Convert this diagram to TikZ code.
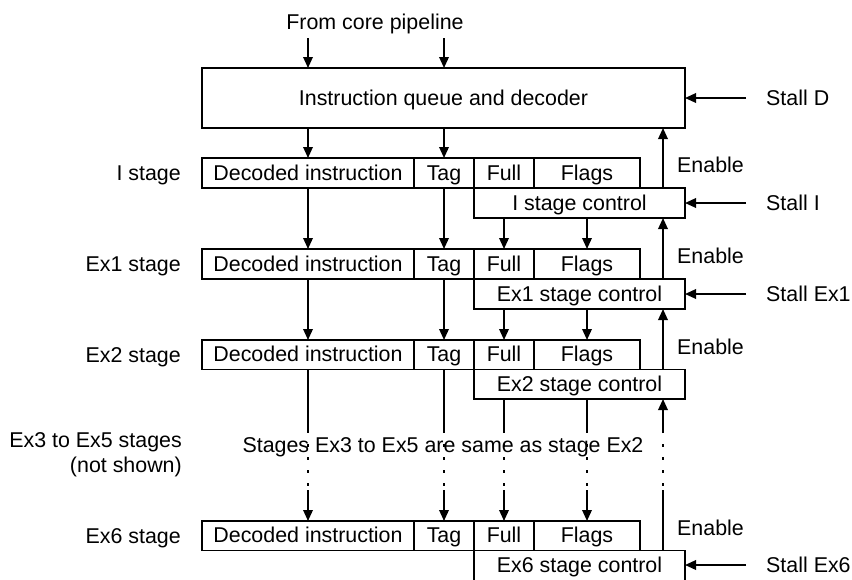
\documentclass[tikz,border=0pt]{standalone}
\usepackage{fontspec}
\setmainfont{Liberation Sans}
\usetikzlibrary{arrows.meta,calc}
\begin{document}
\begin{tikzpicture}[x=1pt,y=-1pt,
  every node/.style={font=\fontsize{21.4}{24}\selectfont,text height=15pt,text depth=1pt},
  cell/.style={draw,line width=1.8pt,minimum height=30pt,inner sep=0pt,outer sep=0pt,anchor=north west},
  conn/.style={line width=1.8pt},
  arr/.style={line width=1.8pt,-{Triangle[length=11pt,width=9.5pt]}},
  dotl/.style={line width=1.8pt,dash pattern=on 3pt off 10pt},
  lab/.style={inner sep=0pt}]
\useasboundingbox (0,0) rectangle (852,579);
% top
\node[lab] (from) at (375,22) {From core pipeline};
\node[cell,minimum width=483pt,minimum height=60pt] (iq) at (202,68) {Instruction queue and decoder};
\coordinate (in1) at (308,38);
\coordinate (in2) at (444,38);
\draw[arr] (in1) -- (in1 |- iq.north);
\draw[arr] (in2) -- (in2 |- iq.north);
\coordinate (sD) at (746,98);
\draw[arr] (sD) -- (iq.east |- sD);
\node[lab,anchor=west] (lsD) at (766,98) {Stall D};
\coordinate (ex) at (663,0);
% I stage
\node[cell,minimum width=212pt] (d1) at (202,158) {Decoded instruction};
\node[cell,minimum width=60pt] (t1) at (414,158) {Tag};
\node[cell,minimum width=60pt] (f1) at (474,158) {Full};
\node[cell,minimum width=106pt] (g1) at (534,158) {Flags};
\node[cell,minimum width=211pt] (c1) at (474,188) {I stage control};
\node[lab,anchor=east] (l1) at (181,173) {I stage};
% Ex1
\node[cell,minimum width=212pt] (d2) at (202,249) {Decoded instruction};
\node[cell,minimum width=60pt] (t2) at (414,249) {Tag};
\node[cell,minimum width=60pt] (f2) at (474,249) {Full};
\node[cell,minimum width=106pt] (g2) at (534,249) {Flags};
\node[cell,minimum width=211pt] (c2) at (474,279) {Ex1 stage control};
\node[lab,anchor=east] (l2) at (181,264) {Ex1 stage};
% Ex2
\node[cell,minimum width=212pt,minimum height=29.5pt] (d3) at (202,340) {Decoded instruction};
\node[cell,minimum width=60pt,minimum height=29.5pt] (t3) at (414,340) {Tag};
\node[cell,minimum width=60pt,minimum height=29.5pt] (f3) at (474,340) {Full};
\node[cell,minimum width=106pt,minimum height=29.5pt] (g3) at (534,340) {Flags};
\node[cell,minimum width=211pt,minimum height=29.5pt] (c3) at (474,369.5) {Ex2 stage control};
\node[lab,anchor=east] (l3) at (181,355) {Ex2 stage};
% Ex6
\node[cell,minimum width=212pt,minimum height=29.5pt] (d6) at (202,521) {Decoded instruction};
\node[cell,minimum width=60pt,minimum height=29.5pt] (t6) at (414,521) {Tag};
\node[cell,minimum width=60pt,minimum height=29.5pt] (f6) at (474,521) {Full};
\node[cell,minimum width=106pt,minimum height=29.5pt] (g6) at (534,521) {Flags};
\node[cell,minimum width=211pt] (c6) at (474,550.5) {Ex6 stage control};
\node[lab,anchor=east] (l6) at (181,536) {Ex6 stage};
% middle labels
\node[lab,anchor=east] (l45a) at (182,440) {Ex3 to Ex5 stages};
\node[lab,anchor=east] (l45b) at (182,465) {(not shown)};
\node[lab] (same) at (443,445) {Stages Ex3 to Ex5 are same as stage Ex2};
% vertical data arrows
\draw[arr] (iq.south -| d1.north) -- (d1.north);
\draw[arr] (iq.south -| t1.north) -- (t1.north);
\draw[arr] (d1.south) -- (d2.north);
\draw[arr] (t1.south) -- (t2.north);
\draw[arr] (c1.south -| f2.north) -- (f2.north);
\draw[arr] (c1.south -| g2.north) -- (g2.north);
\draw[arr] (d2.south) -- (d3.north);
\draw[arr] (t2.south) -- (t3.north);
\draw[arr] (c2.south -| f3.north) -- (f3.north);
\draw[arr] (c2.south -| g3.north) -- (g3.north);
% broken section Ex2 -> Ex6
\coordinate (gt) at (0,433);
\coordinate (dt) at (0,444);
\coordinate (db) at (0,490);
\foreach \a/\b in {d3/d6,t3/t6}{
  \draw[conn] (\a.south) -- (\a.south |- gt);
  \draw[dotl] (\a.south |- dt) -- (\a.south |- db);
  \draw[arr] (\a.south |- db) -- (\b.north);
}
\foreach \b in {f6,g6}{
  \draw[conn] (c3.south -| \b.north) -- (\b.north |- gt);
  \draw[dotl] (\b.north |- dt) -- (\b.north |- db);
  \draw[arr] (\b.north |- db) -- (\b.north);
}
% enable arrows
\draw[arr] (ex |- c1.north) -- (ex |- iq.south);
\draw[arr] (ex |- c2.north) -- (ex |- c1.south);
\draw[arr] (ex |- c3.north) -- (ex |- c2.south);
\draw[conn] (ex |- c6.north) -- (ex |- db);
\draw[dotl] (ex |- dt) -- (ex |- db);
\draw[arr] (ex |- gt) -- (ex |- c3.south);
\node[lab,anchor=west] (e1) at (677,165) {Enable};
\node[lab,anchor=west] (e2) at (677,256) {Enable};
\node[lab,anchor=west] (e3) at (677,347) {Enable};
\node[lab,anchor=west] (e6) at (677,528) {Enable};
% stall arrows
\coordinate (sI) at (746,203);
\coordinate (s1) at (746,294);
\coordinate (s6) at (746,565);
\draw[arr] (sI) -- (c1.east |- sI);
\draw[arr] (s1) -- (c2.east |- s1);
\draw[arr] (s6) -- (c6.east |- s6);
\node[lab,anchor=west] (lsI) at (766,203) {Stall I};
\node[lab,anchor=west] (ls1) at (766,294) {Stall Ex1};
\node[lab,anchor=west] (ls6) at (766,565) {Stall Ex6};
\end{tikzpicture}
\end{document}
